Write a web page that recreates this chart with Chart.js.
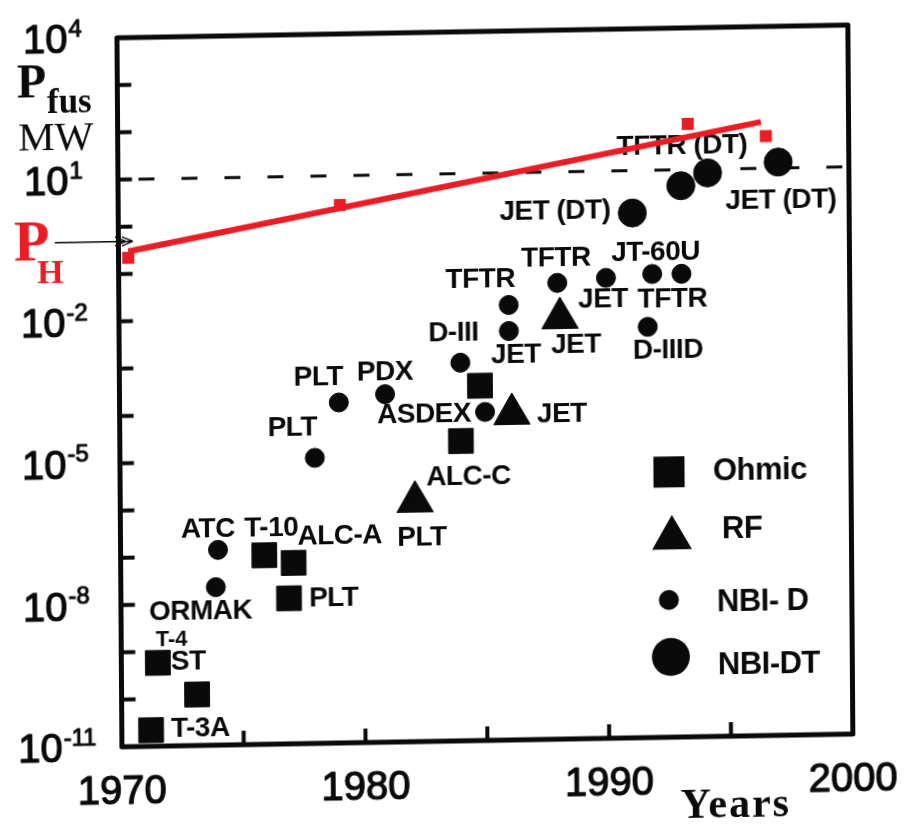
<!DOCTYPE html>
<html>
<head>
<meta charset="utf-8">
<title>Fusion power of tokamak experiments</title>
<script src="https://cdn.jsdelivr.net/npm/chart.js@4.4.1/dist/chart.umd.min.js"></script>
<style>
  html, body { margin: 0; padding: 0; background: #fff; }
  #wrap { width: 906px; height: 826px; overflow: hidden; background: #fff; }
  /* the printed figure sits slightly tilted on the page */
  #fig { display: block; transform: matrix(1, -0.0175, 0.007, 1, 0, 0); transform-origin: 453px 390px; }
</style>
</head>
<body>
<div id="wrap"><canvas id="fig" width="906" height="826"></canvas></div>
<script>
// ---- data: fusion power (MW) reached by tokamak experiments, by year ----
const ohmicYears = [1971.2, 1971.5, 1973.1, 1975.9, 1977.1, 1976.9, 1984.0, 1984.8];
const ohmicPower = [2.2e-11, 5.8e-10, 1.2e-10, 1.0e-7, 6.7e-8, 1.2e-8, 2.2e-5, 3.2e-4];
const ohmicNames = [['T-3A'], ['ST', 'T-4'], [], ['T-10'], ['ALC-A'], ['PLT'], ['ALC-C'], []];

const rfYears = [1982.1, 1986.1, 1988.1];
const rfPower = [1.2e-6, 7.9e-5, 8.1e-3];
const rfNames = [['PLT'], ['JET'], ['JET']];

const nbiDYears = [1973.9, 1974.0, 1978.0, 1979.0, 1980.9, 1984.0, 1985.0, 1986.0, 1986.0, 1988.0, 1990.0, 1991.9, 1993.1, 1991.7];
const nbiDPower = [2.2e-8, 1.35e-7, 1.1e-5, 1.6e-4, 2.3e-4, 1.0e-3, 8.9e-5, 1.6e-2, 4.5e-3, 4.5e-2, 5.5e-2, 6.4e-2, 6.3e-2, 4.9e-3];
const nbiDNames = [['ORMAK'], ['ATC'], ['PLT'], ['PLT'], ['PDX'], ['D-III'], ['ASDEX'], ['TFTR'], ['JET'], ['TFTR'], ['JET'], ['JT-60U'], ['TFTR'], ['D-IIID']];

const nbiDTYears = [1991.1, 1993.1, 1994.2, 1997.1];
const nbiDTPower = [1.27, 4.6, 8.4, 13.4];
const nbiDTNames = [['JET (DT)'], ['TFTR (DT)'], [], ['JET (DT)']];

// heating power P_H
const heatingYears = [1970.4, 1979.1, 1993.4, 1996.6];
const heatingPower = [0.22, 2.4, 93, 48];
const heatingTrendYears = [1970.4, 1996.4];
const heatingTrendPower = [0.30, 96];

const referenceLevel = 10;
const yTickExponents = [4, 1, -2, -5, -8, -11];
const xTickLabels = [1970, 1980, 1990, 2000];
const seriesLabels = ['Ohmic', 'RF', 'NBI- D', 'NBI-DT'];

const X_MIN = 1970, X_MAX = 2000, Y_MIN = 1e-11, Y_MAX = 1e4;

// ---- layout of the annotations (pixel offsets from each marker) ----
const labelOffsets = {
  ohmic: [[[20, -1]], [[13, 0], [-2, -23, 22]], [], [[-20, -27]], [[4, -26]], [[20, 1]], [[-35, 36]], []],
  rf: [[[-18, 36]], [[25, 1]], [[-9, 27]]],
  nbiD: [[[-67, 24]], [[-37, -20]], [[-47, -30]], [[-45, -25]], [[-28, -22]], [[-32, -30]], [[-108, 2]],
         [[-63, -26]], [[-18, 24]], [[-36, -24]], [[-28, 22]], [[-41, -21]], [[-44, 25]], [[-15, 24]]],
  nbiDT: [[[-133, -3]], [[-64, -39]], [], [[-53, 38]]]
};

const INK = '#0a0a0a';
const RED = '#ec1c24';
const SANS = '"Liberation Sans", Arial, Helvetica, sans-serif';
const SERIF = '"Liberation Serif", "Times New Roman", serif';

const pts = (xs, ys) => xs.map((x, i) => ({ x, y: ys[i] }));

const datasets = [
  { label: 'P_H trend', data: pts(heatingTrendYears, heatingTrendPower), showLine: true,
    borderColor: RED, borderWidth: 6, pointRadius: 0, order: 0, clip: false },
  { label: 'P_H', data: pts(heatingYears, heatingPower), showLine: false, pointStyle: 'rect',
    pointRadius: 8.5, backgroundColor: RED, borderColor: RED, borderWidth: 0, order: 1, clip: false },
  { label: 'reference', data: pts([X_MIN, X_MAX], [referenceLevel, referenceLevel]), showLine: true,
    borderColor: INK, borderWidth: 3, borderDash: [16, 27], borderDashOffset: 22.5, pointRadius: 0, order: 6, clip: false },
  { label: seriesLabels[0], data: pts(ohmicYears, ohmicPower), showLine: false, pointStyle: 'rect',
    pointRadius: 17.5, backgroundColor: INK, borderColor: INK, borderWidth: 1, order: 2, clip: false },
  { label: seriesLabels[1], data: pts(rfYears, rfPower), showLine: false, pointStyle: 'triangle',
    pointRadius: 21, backgroundColor: INK, borderColor: INK, borderWidth: 1, order: 2, clip: false },
  { label: seriesLabels[2], data: pts(nbiDYears, nbiDPower), showLine: false, pointStyle: 'circle',
    pointRadius: 9.5, backgroundColor: INK, borderColor: INK, borderWidth: 1, order: 2, clip: false },
  { label: seriesLabels[3], data: pts(nbiDTYears, nbiDTPower), showLine: false, pointStyle: 'circle',
    pointRadius: 14, backgroundColor: INK, borderColor: INK, borderWidth: 1, order: 2, clip: false }
];

const labelGroups = [
  { ds: 3, names: ohmicNames, offsets: labelOffsets.ohmic },
  { ds: 4, names: rfNames, offsets: labelOffsets.rf },
  { ds: 5, names: nbiDNames, offsets: labelOffsets.nbiD },
  { ds: 6, names: nbiDTNames, offsets: labelOffsets.nbiDT }
];

function drawShape(ctx, style, x, y, r) {
  ctx.beginPath();
  if (style === 'rect') {
    const s = r * Math.SQRT1_2;
    ctx.rect(x - s, y - s, 2 * s, 2 * s);
  } else if (style === 'triangle') {
    ctx.moveTo(x, y - r);
    ctx.lineTo(x + r * Math.sin(2 * Math.PI / 3), y - r * Math.cos(2 * Math.PI / 3));
    ctx.lineTo(x + r * Math.sin(4 * Math.PI / 3), y - r * Math.cos(4 * Math.PI / 3));
    ctx.closePath();
  } else {
    ctx.arc(x, y, r, 0, Math.PI * 2);
  }
  ctx.fill();
}

// filled text with a thin outline, for the heavier printed lettering
function heavyText(ctx, text, x, y, w) {
  ctx.lineWidth = w;
  ctx.strokeText(text, x, y);
  ctx.fillText(text, x, y);
}

const figurePlugin = {
  id: 'figure',
  beforeDraw(chart) {
    const ctx = chart.ctx;
    ctx.save();
    ctx.fillStyle = '#fff';
    ctx.fillRect(0, 0, chart.width, chart.height);
    ctx.restore();
  },
  beforeDatasetsDraw(chart) {
    // experiment names next to their markers
    const ctx = chart.ctx;
    ctx.save();
    ctx.fillStyle = INK;
    ctx.textAlign = 'left';
    ctx.textBaseline = 'middle';
    labelGroups.forEach(g => {
      const meta = chart.getDatasetMeta(g.ds);
      g.names.forEach((list, i) => {
        const el = meta.data[i];
        list.forEach((text, k) => {
          const [dx, dy, size] = g.offsets[i][k];
          ctx.font = `bold ${size || 28}px ${SANS}`;
          ctx.letterSpacing = size ? '0px' : '-0.5px';
          ctx.fillText(text, el.x + dx, el.y + dy);
        });
      });
    });
    ctx.restore();
  },
  afterDatasetsDraw(chart) {
    const ctx = chart.ctx;
    const a = chart.chartArea;
    const xs = chart.scales.x, ys = chart.scales.y;
    ctx.save();
    ctx.strokeStyle = INK;
    ctx.fillStyle = INK;
    ctx.lineJoin = 'round';

    // frame
    ctx.lineWidth = 5;
    ctx.strokeRect(a.left, a.top, a.right - a.left, a.bottom - a.top);

    // inward ticks: every decade and every five years
    ctx.lineWidth = 4;
    ctx.beginPath();
    for (let e = Math.log10(Y_MIN) + 1; e < Math.log10(Y_MAX); e++) {
      const y = ys.getPixelForValue(Math.pow(10, e));
      ctx.moveTo(a.left, y); ctx.lineTo(a.left + 14, y);
    }
    for (let yr = X_MIN + 5; yr < X_MAX; yr += 5) {
      const x = xs.getPixelForValue(yr);
      ctx.moveTo(x, a.bottom); ctx.lineTo(x, a.bottom - 14);
    }
    ctx.stroke();

    // year labels
    ctx.font = `40px ${SANS}`;
    ctx.textAlign = 'center';
    ctx.textBaseline = 'alphabetic';
    xTickLabels.forEach(v => heavyText(ctx, String(v), xs.getPixelForValue(v), a.bottom + 57, 1.2));

    // power-of-ten labels
    yTickExponents.forEach(e => {
      const y = ys.getPixelForValue(Math.pow(10, e));
      const sup = e < 0 ? '-' + Math.abs(e) : String(e);
      ctx.font = `40px ${SANS}`;
      const w10 = ctx.measureText('10').width;
      ctx.font = `24px ${SANS}`;
      const ws = ctx.measureText(sup).width;
      const left = a.left - 64.5 - (w10 + 1 + ws) / 2;
      ctx.textAlign = 'left';
      ctx.font = `40px ${SANS}`;
      heavyText(ctx, '10', left, y + 14.3, 1.2);
      ctx.font = `24px ${SANS}`;
      heavyText(ctx, sup, left + w10 + 1, y - 2, 1);
    });

    // axis titles
    ctx.textAlign = 'left';
    ctx.font = `bold 48px ${SERIF}`;
    ctx.fillText('P', 19, 89.6);
    ctx.font = `bold 35px ${SERIF}`;
    ctx.fillText('fus', 49, 105.6);
    ctx.font = `41px ${SERIF}`;
    ctx.fillText('MW', 20, 142.6);

    ctx.font = `bold 42px ${SERIF}`;
    ctx.textAlign = 'center';
    ctx.letterSpacing = '2px';
    ctx.fillText('Years', 733, 822);
    ctx.letterSpacing = '0px';

    // heating power marker on the axis
    ctx.fillStyle = RED;
    ctx.textAlign = 'left';
    ctx.font = `bold 58px ${SERIF}`;
    ctx.fillText('P', 15, 252.7);
    ctx.font = `bold 34px ${SERIF}`;
    ctx.fillText('H', 38, 276);

    ctx.strokeStyle = INK;
    ctx.lineWidth = 1.4;
    ctx.beginPath();
    const ay = 235.7;
    ctx.moveTo(56, ay); ctx.lineTo(134, ay);
    ctx.moveTo(134, ay); ctx.lineTo(123, ay - 4.5);
    ctx.moveTo(134, ay); ctx.lineTo(123, ay + 4.5);
    ctx.moveTo(127, ay); ctx.lineTo(116, ay - 4.5);
    ctx.moveTo(127, ay); ctx.lineTo(116, ay + 4.5);
    ctx.stroke();

    // legend
    ctx.fillStyle = INK;
    const legendMarks = [
      { style: 'rect', r: 22, x: a.left + 549, y: 475.8 },
      { style: 'triangle', r: 23, x: a.left + 551.5, y: 541.8 },
      { style: 'circle', r: 10, x: a.left + 548, y: 603.8 },
      { style: 'circle', r: 19, x: a.left + 549.6, y: 660.8 }
    ];
    const legendText = [
      { x: a.left + 593, y: 476.9 },
      { x: a.left + 601.5, y: 534.6 },
      { x: a.left + 596, y: 607 },
      { x: a.left + 596.5, y: 670.6 }
    ];
    ctx.font = `bold 31px ${SANS}`;
    ctx.textBaseline = 'middle';
    ctx.letterSpacing = '-0.5px';
    seriesLabels.forEach((lab, i) => {
      const m = legendMarks[i];
      drawShape(ctx, m.style, m.x, m.y, m.r);
      ctx.fillText(lab, legendText[i].x, legendText[i].y);
    });
    ctx.restore();
  }
};

new Chart(document.getElementById('fig'), {
  type: 'scatter',
  data: { datasets },
  options: {
    responsive: false,
    animation: false,
    devicePixelRatio: 1,
    events: [],
    layout: { padding: { left: 119.5, top: 32, right: 55.5, bottom: 85 } },
    scales: {
      x: { type: 'linear', min: X_MIN, max: X_MAX, display: false },
      y: { type: 'logarithmic', min: Y_MIN, max: Y_MAX, display: false }
    },
    plugins: { legend: { display: false }, tooltip: { enabled: false } }
  },
  plugins: [figurePlugin]
});
</script>
</body>
</html>
